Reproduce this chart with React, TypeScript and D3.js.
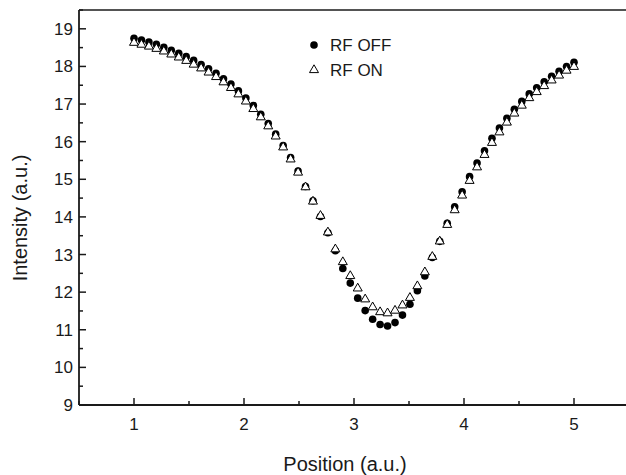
import React from "react";
import * as d3 from "d3";

const positions: number[] = Array.from({ length: 60 }, (_, k) => 1 + (k * 4) / 59);

const rfOff: number[] = [
  18.75, 18.7, 18.65, 18.59, 18.51, 18.43, 18.35, 18.26, 18.16, 18.05,
  17.94, 17.82, 17.67, 17.53, 17.35, 17.16, 16.96, 16.73, 16.48, 16.2,
  15.9, 15.58, 15.22, 14.81, 14.43, 14.01, 13.58, 13.1, 12.63, 12.24,
  11.84, 11.51, 11.28, 11.14, 11.1, 11.19, 11.39, 11.68, 12.04, 12.43,
  12.92, 13.35, 13.83, 14.27, 14.67, 15.07, 15.43, 15.76, 16.09, 16.36,
  16.62, 16.86, 17.07, 17.27, 17.43, 17.59, 17.74, 17.87, 18.0, 18.11,
];

const rfOn: number[] = [
  18.63, 18.58, 18.53, 18.47, 18.4, 18.32, 18.24, 18.15, 18.05, 17.95,
  17.84, 17.72, 17.58, 17.43, 17.26, 17.07, 16.87, 16.65, 16.41, 16.14,
  15.85, 15.53, 15.18, 14.79, 14.41, 14.03, 13.59, 13.14, 12.8, 12.43,
  12.1, 11.81, 11.6, 11.47, 11.44, 11.51, 11.65, 11.85, 12.16, 12.53,
  12.94, 13.35, 13.79, 14.18, 14.57, 14.96, 15.32, 15.65, 15.97, 16.25,
  16.51, 16.75, 16.96, 17.16, 17.32, 17.48, 17.63, 17.76, 17.89, 17.99,
];

const xTicks: number[] = [1, 2, 3, 4, 5];
const xMinor: number[] = [0.5, 1.5, 2.5, 3.5, 4.5, 5.5];
const yTicks: number[] = [9, 10, 11, 12, 13, 14, 15, 16, 17, 18, 19];
const yMinor: number[] = [9.5, 10.5, 11.5, 12.5, 13.5, 14.5, 15.5, 16.5, 17.5, 18.5, 19.5];
const seriesNames: string[] = ["RF OFF", "RF ON"];

const W = 626;
const H = 475;
const left = 79;
const right = 629;
const top = 10;
const bottom = 405;
const font = "'Liberation Sans', Arial, Helvetica, sans-serif";
const ink = "#1a1a1a";

function triPath(cx: number, cy: number, s: number): string {
  const h = s * 0.866;
  return `M${cx},${cy - (2 * h) / 3}L${cx + s / 2},${cy + h / 3}L${cx - s / 2},${cy + h / 3}Z`;
}

export default function App() {
  const x = d3.scaleLinear().domain([0.5, 5.5]).range([left, right]);
  const y = d3.scaleLinear().domain([9, 19.5]).range([bottom, top]);

  return (
    <svg
      width={W}
      height={H}
      style={{ position: "absolute", left: 0, top: 0, background: "#fff" }}
      fontFamily={font}
    >
      <rect x={0} y={0} width={W} height={H} fill="#fff" />
      <line x1={left} x2={right} y1={top} y2={top} stroke={ink} strokeWidth={1.5} />
      <line x1={left} x2={left} y1={top} y2={bottom} stroke={ink} strokeWidth={1.8} />
      <line x1={left} x2={right} y1={bottom} y2={bottom} stroke={ink} strokeWidth={1.8} />
      {xTicks.map((t) => (
        <g key={"xt" + t}>
          <line x1={x(t)} x2={x(t)} y1={bottom} y2={bottom - 7} stroke={ink} strokeWidth={1.5} />
          <text x={x(t)} y={bottom + 25} fontSize={17} textAnchor="middle" fill={ink}>
            {t}
          </text>
        </g>
      ))}
      {xMinor.map((t) => (
        <line key={"xm" + t} x1={x(t)} x2={x(t)} y1={bottom} y2={bottom - 4} stroke={ink} strokeWidth={1.5} />
      ))}
      {yTicks.map((t) => (
        <g key={"yt" + t}>
          <line x1={left} x2={left + 7} y1={y(t)} y2={y(t)} stroke={ink} strokeWidth={1.5} />
          <text x={left - 6} y={y(t) + 6} fontSize={17} textAnchor="end" fill={ink}>
            {t}
          </text>
        </g>
      ))}
      {yMinor.map((t) => (
        <line key={"ym" + t} x1={left} x2={left + 4} y1={y(t)} y2={y(t)} stroke={ink} strokeWidth={1.5} />
      ))}
      <text x={345} y={471} fontSize={20} textAnchor="middle" fill={ink}>
        Position (a.u.)
      </text>
      <text
        transform={`translate(27,${218}) rotate(-90)`}
        fontSize={20}
        textAnchor="middle"
        fill={ink}
      >
        Intensity (a.u.)
      </text>
      {positions.map((p, i) => (
        <circle key={"off" + i} cx={x(p)} cy={y(rfOff[i])} r={3.8} fill="#000" />
      ))}
      {positions.map((p, i) => (
        <path key={"on" + i} d={triPath(x(p), y(rfOn[i]), 9)} fill="#fff" stroke="#000" strokeWidth={1} />
      ))}
      <circle cx={314} cy={45} r={3.8} fill="#000" />
      <text x={330} y={51} fontSize={17} fill={ink}>
        {seriesNames[0]}
      </text>
      <path d={triPath(314, 70, 9)} fill="#fff" stroke="#000" strokeWidth={1} />
      <text x={330} y={76} fontSize={17} fill={ink}>
        {seriesNames[1]}
      </text>
    </svg>
  );
}
